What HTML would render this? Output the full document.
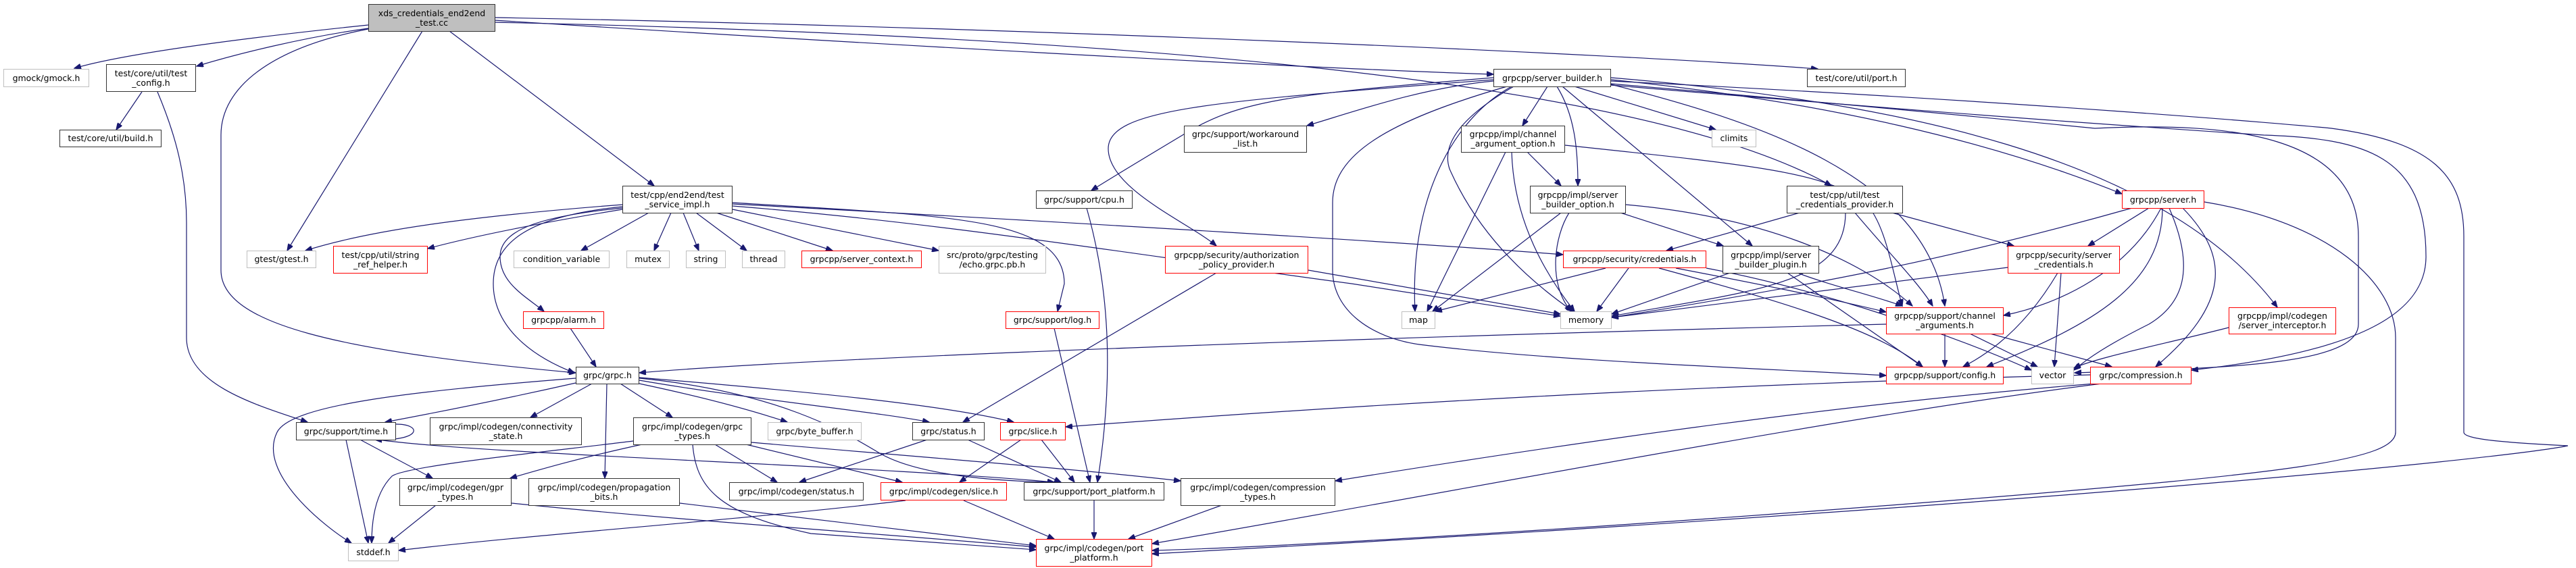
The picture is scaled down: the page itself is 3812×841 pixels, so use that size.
<!DOCTYPE html>
<html><head><meta charset="utf-8"><style>
html,body{margin:0;padding:0;background:#fff;}
body{width:3812px;height:841px;position:relative;overflow:hidden;font-family:"DejaVu Sans","Liberation Sans",sans-serif;}
.n{position:absolute;box-sizing:border-box;border:1.5px solid #333;background:#fff;font-size:12.5px;line-height:14px;color:#000;text-align:center;display:flex;align-items:center;justify-content:center;white-space:pre;}
.r{border-color:#ff0000;}
.g{border-color:#bfbfbf;}
svg{position:absolute;left:0;top:0;}
path{fill:none;stroke:#191970;stroke-width:1.2;}
</style></head><body>
<svg width="3812" height="841" viewBox="0 0 3812 841">
<defs><marker id="a" markerUnits="userSpaceOnUse" markerWidth="11" markerHeight="8" refX="10" refY="4" orient="auto"><path d="M0,0 L10,4 L0,8 z" style="fill:#191970;stroke:#191970"/></marker></defs>
<g marker-end="url(#a)">
<path d="M545,37 C420,50 200,75 110,101"/>
<path d="M545,42 C450,55 350,80 291,98"/>
<path d="M625,46 L425,371"/>
<path d="M550,42 C400,70 327,130 327,200 L327,400 C327,480 500,520 852,552"/>
<path d="M665,46 L968,275"/>
<path d="M732,30 C1200,60 1900,100 2210,110"/>
<path d="M732,26 C1500,40 2400,80 2690,102"/>
<path d="M732,33 C1500,50 2400,100 2710,275"/>
<path d="M210,136 L172,192"/>
<path d="M233,136 C260,200 276,260 276,330 L276,500 C276,570 380,600 455,625"/>
<path d="M921,303 C700,320 550,340 452,371"/>
<path d="M921,310 C800,330 700,350 633,368"/>
<path d="M921,308 C800,320 740,340 740,380 C740,420 780,440 805,461"/>
<path d="M921,306 C780,320 730,360 730,420 C730,480 780,525 850,552"/>
<path d="M960,315 L860,371"/>
<path d="M993,315 L968,371"/>
<path d="M1011,315 L1034,371"/>
<path d="M1030,315 L1105,371"/>
<path d="M1060,315 L1232,371"/>
<path d="M1084,310 L1389,371"/>
<path d="M1084,300 C1400,320 1575,320 1575,420 L1565,461"/>
<path d="M1084,305 C1400,330 1700,380 2000,420 L2309,468"/>
<path d="M1084,302 C1600,330 2100,360 2313,377"/>
<path d="M844,486 L882,543"/>
<path d="M852,567 C750,590 650,610 570,625"/>
<path d="M876,568 L785,618"/>
<path d="M918,568 L995,618"/>
<path d="M898,568 L895,708"/>
<path d="M946,568 C1050,590 1120,610 1165,625"/>
<path d="M946,563 C1100,590 1300,610 1375,625"/>
<path d="M946,559 C1200,580 1400,600 1500,625"/>
<path d="M946,560 C1150,580 1250,640 1300,670 C1350,700 1450,712 1560,714"/>
<path d="M852,560 C600,580 430,600 410,640 C380,700 480,780 520,804"/>
<path d="M2791,480 C2000,500 1200,530 946,552"/>
<path d="M586,628 C625,628 625,653 555,651"/>
<path d="M512,651 L545,804"/>
<path d="M533,651 L640,708"/>
<path d="M560,651 C700,672 1300,690 1560,714"/>
<path d="M645,748 L575,804"/>
<path d="M757,745 C1000,770 1300,790 1533,810"/>
<path d="M950,658 C850,680 800,695 755,708"/>
<path d="M937,653 C800,670 600,690 580,705 C555,730 550,770 550,804"/>
<path d="M1058,658 L1150,714"/>
<path d="M1104,658 L1335,714"/>
<path d="M1025,658 C1030,720 1060,760 1200,790 L1533,814"/>
<path d="M1112,655 C1400,680 1600,695 1747,712"/>
<path d="M1006,745 L1533,808"/>
<path d="M1372,651 L1183,714"/>
<path d="M1432,651 L1570,714"/>
<path d="M1511,651 L1420,714"/>
<path d="M1541,651 L1590,714"/>
<path d="M1340,741 C1100,770 800,790 590,815"/>
<path d="M1426,741 L1560,798"/>
<path d="M1619,741 L1619,798"/>
<path d="M1808,748 L1670,798"/>
<path d="M1560,486 L1613,714"/>
<path d="M1608,308 C1640,420 1650,550 1624,714"/>
<path d="M1800,404 L1425,625"/>
<path d="M1936,400 L2309,465"/>
<path d="M2210,120 C2100,130 1990,170 1934,186"/>
<path d="M2210,115 C1900,140 1830,150 1750,200 C1700,230 1650,260 1615,282"/>
<path d="M2210,118 C1800,150 1640,160 1640,220 C1640,280 1760,330 1800,364"/>
<path d="M2290,128 L2253,186"/>
<path d="M2304,128 C2330,170 2335,220 2335,275"/>
<path d="M2312,128 L2593,364"/>
<path d="M2330,128 L2539,192"/>
<path d="M2237,128 C2160,170 2085,280 2094,461"/>
<path d="M2240,128 C2150,180 2135,220 2145,250 C2180,330 2240,400 2328,461"/>
<path d="M2230,128 C2050,180 1972,230 1972,300 L1972,400 C1972,460 2030,500 2100,510 C2300,535 2600,545 2791,556"/>
<path d="M2384,118 C2700,150 2950,210 3140,287"/>
<path d="M2384,115 C2800,150 3200,230 3370,455"/>
<path d="M2384,124 C2800,160 3000,180 3100,190 C3300,180 3490,200 3490,350 L3490,480 C3490,540 3300,545 3070,552"/>
<path d="M2384,126 C2900,170 3200,190 3350,200 C3500,205 3590,230 3590,380 C3590,460 3500,520 3243,548"/>
<path d="M2384,120 C3000,150 3400,185 3450,190 C3600,210 3646,260 3646,350 L3646,640 C3646,650 3700,655 3800,660 C3700,680 3000,750 1705,820"/>
<path d="M2384,125 C2600,180 2850,260 2878,453"/>
<path d="M2260,225 L2310,275"/>
<path d="M2228,225 L2112,461"/>
<path d="M2237,225 C2240,330 2290,410 2330,461"/>
<path d="M2316,215 C2600,245 2700,255 2760,300 C2790,330 2800,400 2815,453"/>
<path d="M2310,315 L2120,461"/>
<path d="M2322,315 C2300,350 2290,420 2325,461"/>
<path d="M2398,315 L2550,364"/>
<path d="M2406,303 C2600,320 2750,380 2830,453"/>
<path d="M2663,315 L2466,371"/>
<path d="M2731,315 C2731,420 2600,430 2385,468"/>
<path d="M2745,315 C2800,380 2840,420 2860,453"/>
<path d="M2800,315 L2980,364"/>
<path d="M2376,397 L2124,461"/>
<path d="M2410,397 L2363,461"/>
<path d="M2480,397 C2600,420 2700,440 2791,462"/>
<path d="M2455,397 C2650,450 2780,490 2845,543"/>
<path d="M2525,397 C2700,430 2900,500 3006,548"/>
<path d="M2560,404 L2385,465"/>
<path d="M2660,404 C2700,420 2780,440 2815,453"/>
<path d="M2645,404 L2845,543"/>
<path d="M3155,308 C2900,380 2700,420 2385,470"/>
<path d="M3198,308 C3150,400 3050,450 2965,467"/>
<path d="M3180,308 L3090,364"/>
<path d="M3200,308 C3200,420 3100,480 2940,543"/>
<path d="M3210,308 C3250,400 3230,450 3180,480 C3120,510 3090,530 3069,548"/>
<path d="M3230,308 C3300,380 3300,450 3190,543"/>
<path d="M3262,299 C3450,330 3545,420 3545,500 L3545,640 C3545,680 3400,700 2900,740 C2400,780 1900,810 1705,815"/>
<path d="M2971,396 L2385,470"/>
<path d="M3045,404 C3000,480 2950,520 2905,543"/>
<path d="M3050,404 L3040,543"/>
<path d="M2878,494 L2878,543"/>
<path d="M2915,494 L3015,543"/>
<path d="M2945,494 L3125,543"/>
<path d="M3298,485 C3200,510 3100,530 3069,545"/>
<path d="M3093,555 C2500,570 2000,600 1577,632"/>
<path d="M3100,568 C2700,600 2300,660 1976,712"/>
<path d="M3110,568 C2700,620 2200,720 1705,805"/>
</g>
</svg>
<div class="n" style="left:545px;top:6px;width:188px;height:41px;background:#bfbfbf;">xds_credentials_end2end
_test.cc</div>
<div class="n g" style="left:5px;top:102px;width:127px;height:27px;">gmock/gmock.h</div>
<div class="n" style="left:157px;top:95px;width:133px;height:41px;">test/core/util/test
_config.h</div>
<div class="n" style="left:88px;top:192px;width:151px;height:26px;">test/core/util/build.h</div>
<div class="n g" style="left:365px;top:371px;width:103px;height:26px;">gtest/gtest.h</div>
<div class="n r" style="left:493px;top:364px;width:140px;height:41px;">test/cpp/util/string
_ref_helper.h</div>
<div class="n g" style="left:760px;top:371px;width:142px;height:26px;">condition_variable</div>
<div class="n r" style="left:774px;top:461px;width:120px;height:26px;">grpcpp/alarm.h</div>
<div class="n" style="left:852px;top:543px;width:94px;height:26px;">grpc/grpc.h</div>
<div class="n" style="left:438px;top:625px;width:148px;height:27px;">grpc/support/time.h</div>
<div class="n" style="left:636px;top:618px;width:225px;height:41px;">grpc/impl/codegen/connectivity
_state.h</div>
<div class="n" style="left:591px;top:708px;width:166px;height:41px;">grpc/impl/codegen/gpr
_types.h</div>
<div class="n" style="left:782px;top:708px;width:224px;height:41px;">grpc/impl/codegen/propagation
_bits.h</div>
<div class="n g" style="left:515px;top:804px;width:75px;height:27px;">stddef.h</div>
<div class="n" style="left:921px;top:275px;width:163px;height:41px;">test/cpp/end2end/test
_service_impl.h</div>
<div class="n g" style="left:927px;top:371px;width:64px;height:26px;">mutex</div>
<div class="n g" style="left:1015px;top:371px;width:59px;height:26px;">string</div>
<div class="n g" style="left:1098px;top:371px;width:64px;height:26px;">thread</div>
<div class="n r" style="left:1186px;top:371px;width:178px;height:26px;">grpcpp/server_context.h</div>
<div class="n g" style="left:1389px;top:364px;width:159px;height:41px;">src/proto/grpc/testing
/echo.grpc.pb.h</div>
<div class="n r" style="left:1488px;top:461px;width:139px;height:26px;">grpc/support/log.h</div>
<div class="n" style="left:1533px;top:282px;width:143px;height:27px;">grpc/support/cpu.h</div>
<div class="n" style="left:1752px;top:186px;width:182px;height:40px;">grpc/support/workaround
_list.h</div>
<div class="n r" style="left:1724px;top:364px;width:212px;height:41px;">grpcpp/security/authorization
_policy_provider.h</div>
<div class="n" style="left:937px;top:618px;width:175px;height:41px;">grpc/impl/codegen/grpc
_types.h</div>
<div class="n g" style="left:1136px;top:625px;width:139px;height:27px;">grpc/byte_buffer.h</div>
<div class="n" style="left:1350px;top:625px;width:107px;height:27px;">grpc/status.h</div>
<div class="n r" style="left:1480px;top:625px;width:97px;height:27px;">grpc/slice.h</div>
<div class="n" style="left:1079px;top:714px;width:199px;height:27px;">grpc/impl/codegen/status.h</div>
<div class="n r" style="left:1303px;top:714px;width:187px;height:27px;">grpc/impl/codegen/slice.h</div>
<div class="n" style="left:1515px;top:714px;width:208px;height:27px;">grpc/support/port_platform.h</div>
<div class="n" style="left:1747px;top:708px;width:229px;height:41px;">grpc/impl/codegen/compression
_types.h</div>
<div class="n r" style="left:1533px;top:798px;width:172px;height:41px;">grpc/impl/codegen/port
_platform.h</div>
<div class="n" style="left:2210px;top:102px;width:174px;height:27px;">grpcpp/server_builder.h</div>
<div class="n" style="left:2674px;top:102px;width:146px;height:27px;">test/core/util/port.h</div>
<div class="n" style="left:2162px;top:186px;width:154px;height:40px;">grpcpp/impl/channel
_argument_option.h</div>
<div class="n g" style="left:2533px;top:192px;width:66px;height:26px;">climits</div>
<div class="n" style="left:2264px;top:275px;width:142px;height:41px;">grpcpp/impl/server
_builder_option.h</div>
<div class="n" style="left:2644px;top:275px;width:172px;height:41px;">test/cpp/util/test
_credentials_provider.h</div>
<div class="n r" style="left:2313px;top:371px;width:212px;height:26px;">grpcpp/security/credentials.h</div>
<div class="n" style="left:2549px;top:364px;width:143px;height:41px;">grpcpp/impl/server
_builder_plugin.h</div>
<div class="n g" style="left:2074px;top:461px;width:50px;height:26px;">map</div>
<div class="n g" style="left:2309px;top:461px;width:76px;height:26px;">memory</div>
<div class="n r" style="left:3140px;top:282px;width:122px;height:27px;">grpcpp/server.h</div>
<div class="n r" style="left:2971px;top:364px;width:166px;height:41px;">grpcpp/security/server
_credentials.h</div>
<div class="n r" style="left:2791px;top:455px;width:174px;height:40px;">grpcpp/support/channel
_arguments.h</div>
<div class="n r" style="left:3298px;top:455px;width:159px;height:40px;">grpcpp/impl/codegen
/server_interceptor.h</div>
<div class="n r" style="left:2791px;top:543px;width:174px;height:26px;">grpcpp/support/config.h</div>
<div class="n g" style="left:3006px;top:543px;width:63px;height:26px;">vector</div>
<div class="n r" style="left:3093px;top:543px;width:150px;height:26px;">grpc/compression.h</div>
</body></html>
